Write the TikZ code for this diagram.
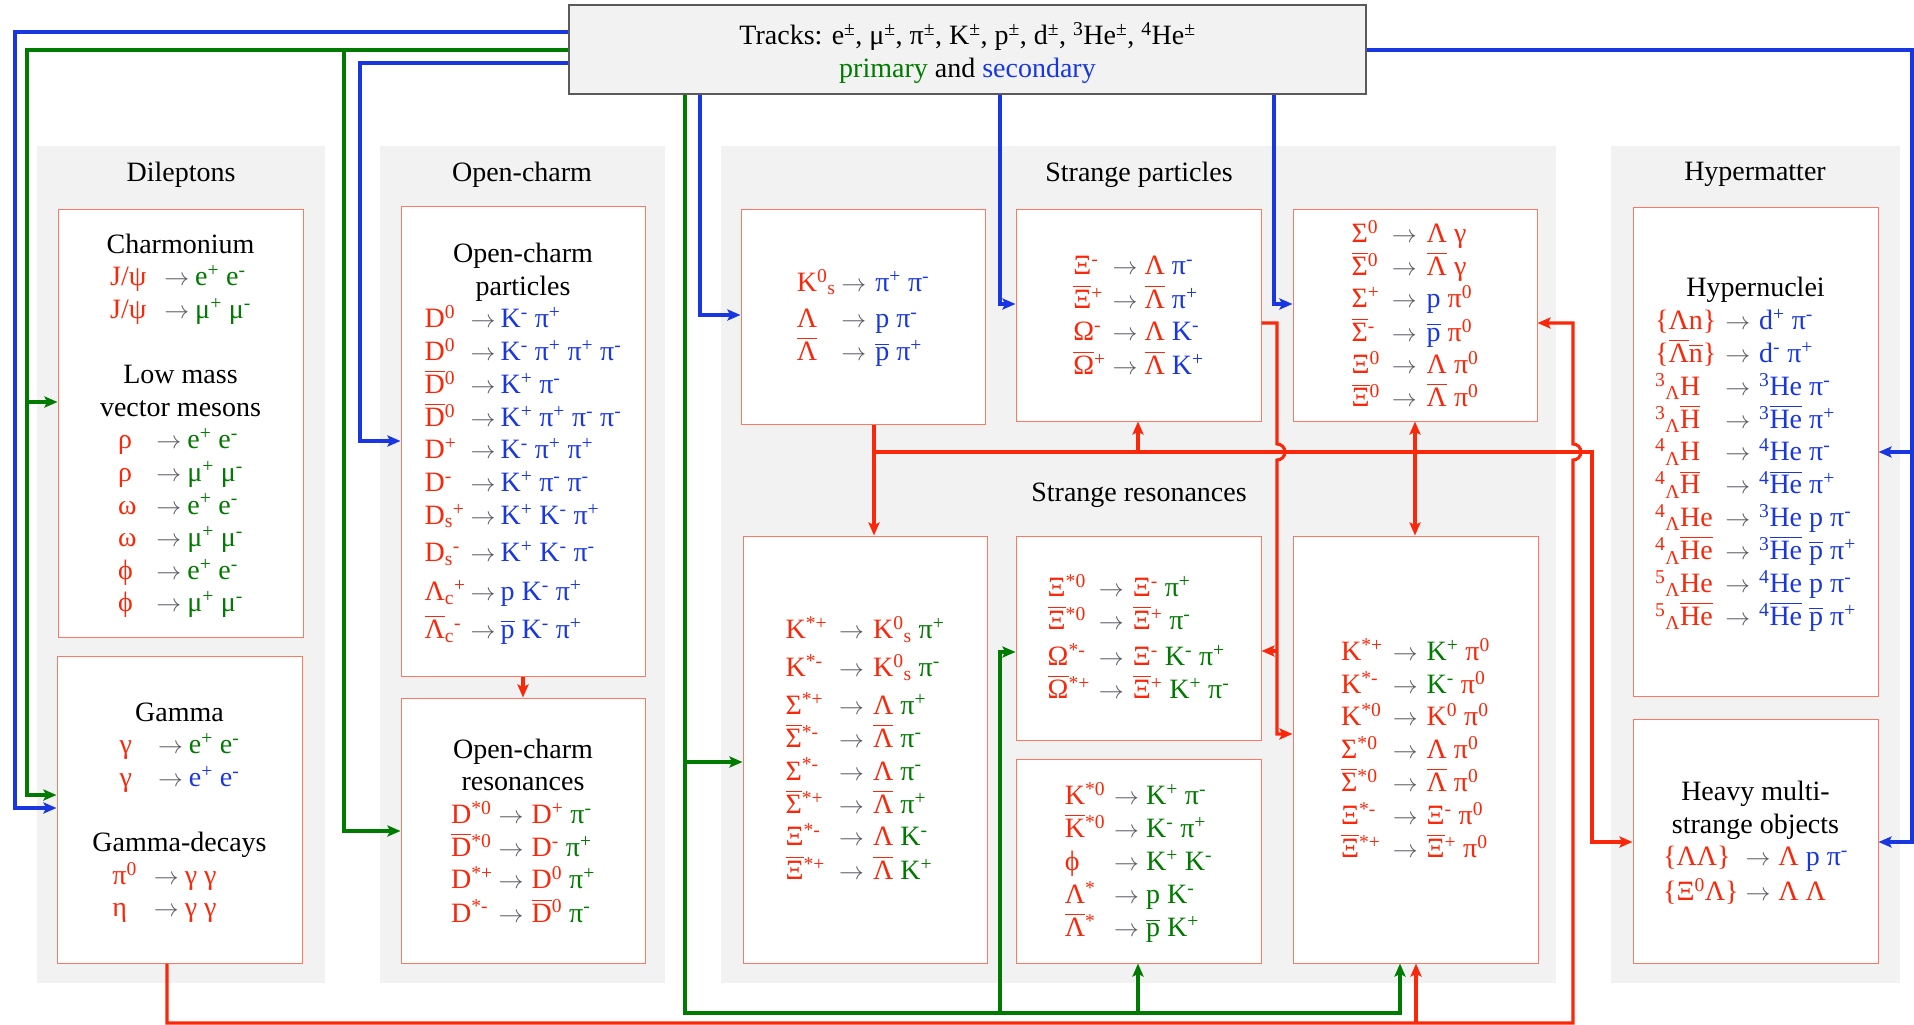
\documentclass[tikz,border=0pt]{standalone}
\usepackage{amsmath}
\usepackage{fontspec}
\setmainfont{Liberation Serif}
\usetikzlibrary{arrows.meta}
\definecolor{cr}{RGB}{250,40,10}
\definecolor{cg}{RGB}{0,122,0}
\definecolor{cb}{RGB}{25,55,225}
\definecolor{cgr}{RGB}{90,90,100}
\definecolor{bgc}{RGB}{242,242,242}
\definecolor{bordc}{RGB}{255,120,100}
\definecolor{trkb}{RGB}{90,90,90}
\newcommand\xup[1]{\textsuperscript{#1}}
\newcommand\xss[2]{\textsuperscript{#1}\textsubscript{#2}}
\newcommand\xsb[2]{\textsubscript{#1}\textsuperscript{#2}}
\newcommand\ob[1]{\ensuremath{\overline{\mbox{#1}}}}
\newcommand\dto{\textcolor{cgr}{$\rightarrow$}}
\newcommand\cR[1]{\textcolor{cr}{#1}}
\newcommand\cG[1]{\textcolor{cg}{#1}}
\newcommand\cB[1]{\textcolor{cb}{#1}}
\newcommand\fs{\fontsize{28}{32.6}\selectfont}
\newcommand\dn[1]{\raisebox{0pt}[\dimexpr\height+6pt\relax][\depth]{#1}}
\newenvironment{dt}[2]{\begin{tabular}[t]{@{}l@{\hspace{#1}}c@{\hspace{#2}}l@{}}}{\end{tabular}}
\newenvironment{bx}{\begin{tabular}{@{}c@{}}}{\end{tabular}}
\begin{document}
\begin{tikzpicture}[x=1pt,y=-1pt,>={Stealth[length=13pt,width=11pt,inset=2.5pt]},
  grp/.style={fill=bgc,draw=none},
  dbox/.style={draw=bordc,line width=1pt,fill=white,inner sep=0pt,font=\fs},
  ttl/.style={font=\fs,inner sep=0pt},
  blueln/.style={draw=cb,line width=3.1pt},
  greenln/.style={draw=cg,line width=3.1pt},
  redln/.style={draw=cr,line width=3.1pt}]
\useasboundingbox (0,0) rectangle (1914,1025);
\fill[white] (0,0) rectangle (1914,1025);
% group backgrounds
\fill[grp] (37,146) rectangle (325,983);
\fill[grp] (380,146) rectangle (665,983);
\fill[grp] (721,146) rectangle (1556,983);
\fill[grp] (1611,146) rectangle (1900,983);
\node[ttl] (tdil) at (181,174.5) {Dileptons};
\node[ttl] (toc) at (522,174.5) {Open-charm};
\node[ttl] (tsp) at (1139,174.5) {Strange particles};
\node[ttl] (tsr) at (1139,495) {Strange resonances};
\node[ttl] (thy) at (1755,174.5) {Hypermatter};
% tracks
\node[draw=trkb,line width=1.2pt,fill=bgc,minimum width=797pt,minimum height=89pt,inner sep=0pt] (tr) at (967.5,49.5) {};
\node[align=center,font=\fs,inner sep=0pt] (trt) at (967.5,53) {Tracks: e\xup{±}, μ\xup{±}, π\xup{±}, K\xup{±}, p\xup{±}, d\xup{±}, \xup{3}He\xup{±}, \xup{4}He\xup{±}\\ \cG{primary} and \cB{secondary}};
% Dileptons
\node[dbox,minimum width=245pt,minimum height=428pt] (ch) at (180.5,423) {\dn{\begin{bx}
Charmonium\\
\begin{dt}{18pt}{6pt}
\cR{J/ψ} & \dto & \cG{e\xup{+} e\xup{-}}\\
\cR{J/ψ} & \dto & \cG{μ\xup{+} μ\xup{-}}
\end{dt}\\
\\
Low mass\\
vector mesons\\
\begin{dt}{20pt}{6pt}
\cR{ρ} & \dto & \cG{e\xup{+} e\xup{-}}\\
\cR{ρ} & \dto & \cG{μ\xup{+} μ\xup{-}}\\
\cR{ω} & \dto & \cG{e\xup{+} e\xup{-}}\\
\cR{ω} & \dto & \cG{μ\xup{+} μ\xup{-}}\\
\cR{ϕ} & \dto & \cG{e\xup{+} e\xup{-}}\\
\cR{ϕ} & \dto & \cG{μ\xup{+} μ\xup{-}}
\end{dt}
\end{bx}}};
\node[dbox,minimum width=245pt,minimum height=307pt] (ga) at (179.5,809.5) {\dn{\begin{bx}
Gamma\\
\begin{dt}{26pt}{6pt}
\cR{γ} & \dto & \cG{e\xup{+} e\xup{-}}\\
\cR{γ} & \dto & \cB{e\xup{+} e\xup{-}}
\end{dt}\\
\\
Gamma-decays\\
\hspace*{-30pt}\begin{dt}{17pt}{6pt}
\cR{π\xup{0}} & \dto & \cR{γ γ}\\
\cR{η} & \dto & \cR{γ γ}
\end{dt}
\end{bx}}};
% Open charm
\node[dbox,minimum width=244pt,minimum height=470pt] (ocp) at (523,441) {\dn{\begin{bx}
Open-charm\\
particles\\
\begin{dt}{5pt}{5pt}
\cR{D\xup{0}} & \dto & \cB{K\xup{-} π\xup{+}}\\
\cR{D\xup{0}} & \dto & \cB{K\xup{-} π\xup{+} π\xup{+} π\xup{-}}\\
\cR{\ob{D}\xup{0}} & \dto & \cB{K\xup{+} π\xup{-}}\\
\cR{\ob{D}\xup{0}} & \dto & \cB{K\xup{+} π\xup{+} π\xup{-} π\xup{-}}\\
\cR{D\xup{+}} & \dto & \cB{K\xup{-} π\xup{+} π\xup{+}}\\
\cR{D\xup{-}} & \dto & \cB{K\xup{+} π\xup{-} π\xup{-}}\\
\cR{D\xsb{s}{+}} & \dto & \cB{K\xup{+} K\xup{-} π\xup{+}}\\[5pt]
\cR{D\xsb{s}{-}} & \dto & \cB{K\xup{+} K\xup{-} π\xup{-}}\\[6pt]
\cR{Λ\xsb{c}{+}} & \dto & \cB{p K\xup{-} π\xup{+}}\\[5pt]
\cR{\ob{Λ}\xsb{c}{-}} & \dto & \cB{\ob{p} K\xup{-} π\xup{+}}
\end{dt}
\end{bx}}};
\node[dbox,minimum width=244pt,minimum height=265pt] (ocr) at (523,830.5) {\dn{\begin{bx}
Open-charm\\
resonances\\
\begin{dt}{6pt}{8pt}
\cR{D\xup{*0}} & \dto & \cR{D\xup{+}} \cG{π\xup{-}}\\
\cR{\ob{D}\xup{*0}} & \dto & \cR{D\xup{-}} \cG{π\xup{+}}\\
\cR{D\xup{*+}} & \dto & \cR{D\xup{0}} \cG{π\xup{+}}\\
\cR{D\xup{*-}} & \dto & \cR{\ob{D}\xup{0}} \cG{π\xup{-}}
\end{dt}
\end{bx}}};
% Strange particles
\node[dbox,minimum width=244pt,minimum height=215pt] (ks) at (863,316.5) {\dn{\begin{dt}{6pt}{9pt}
\cR{K\xss{0}{s}} & \dto & \cB{π\xup{+} π\xup{-}}\\[4pt]
\cR{Λ} & \dto & \cB{p π\xup{-}}\\
\cR{\ob{Λ}} & \dto & \cB{\ob{p} π\xup{+}}
\end{dt}}};
\node[dbox,minimum width=245pt,minimum height=212pt] (xi) at (1138.5,315) {\dn{\begin{dt}{7pt}{7pt}
\cR{Ξ\xup{-}} & \dto & \cR{Λ} \cB{π\xup{-}}\\
\cR{\ob{Ξ}\xup{+}} & \dto & \cR{\ob{Λ}} \cB{π\xup{+}}\\
\cR{Ω\xup{-}} & \dto & \cR{Λ} \cB{K\xup{-}}\\
\cR{\ob{Ω}\xup{+}} & \dto & \cR{\ob{Λ}} \cB{K\xup{+}}
\end{dt}}};
\node[dbox,minimum width=244pt,minimum height=212pt] (sg) at (1415,315) {\dn{\begin{dt}{12pt}{10pt}
\cR{Σ\xup{0}} & \dto & \cR{Λ γ}\\
\cR{\ob{Σ}\xup{0}} & \dto & \cR{\ob{Λ} γ}\\
\cR{Σ\xup{+}} & \dto & \cB{p} \cR{π\xup{0}}\\
\cR{\ob{Σ}\xup{-}} & \dto & \cB{\ob{p}} \cR{π\xup{0}}\\
\cR{Ξ\xup{0}} & \dto & \cR{Λ π\xup{0}}\\
\cR{\ob{Ξ}\xup{0}} & \dto & \cR{\ob{Λ} π\xup{0}}
\end{dt}}};
% Strange resonances
\node[dbox,minimum width=244pt,minimum height=427pt] (kst) at (865,749.5) {\dn{\begin{dt}{12pt}{9pt}
\cR{K\xup{*+}} & \dto & \cR{K\xss{0}{s}} \cG{π\xup{+}}\\[5pt]
\cR{K\xup{*-}} & \dto & \cR{K\xss{0}{s}} \cG{π\xup{-}}\\[5pt]
\cR{Σ\xup{*+}} & \dto & \cR{Λ} \cG{π\xup{+}}\\
\cR{\ob{Σ}\xup{*-}} & \dto & \cR{\ob{Λ}} \cG{π\xup{-}}\\
\cR{Σ\xup{*-}} & \dto & \cR{Λ} \cG{π\xup{-}}\\
\cR{\ob{Σ}\xup{*+}} & \dto & \cR{\ob{Λ}} \cG{π\xup{+}}\\
\cR{Ξ\xup{*-}} & \dto & \cR{Λ} \cG{K\xup{-}}\\
\cR{\ob{Ξ}\xup{*+}} & \dto & \cR{\ob{Λ}} \cG{K\xup{+}}
\end{dt}}};
\node[dbox,minimum width=245pt,minimum height=204pt] (xis) at (1138.5,638) {\dn{\begin{dt}{9pt}{9pt}
\cR{Ξ\xup{*0}} & \dto & \cR{Ξ\xup{-}} \cG{π\xup{+}}\\
\cR{\ob{Ξ}\xup{*0}} & \dto & \cR{\ob{Ξ}\xup{+}} \cG{π\xup{-}}\\[3pt]
\cR{Ω\xup{*-}} & \dto & \cR{Ξ\xup{-}} \cG{K\xup{-} π\xup{+}}\\
\cR{\ob{Ω}\xup{*+}} & \dto & \cR{\ob{Ξ}\xup{+}} \cG{K\xup{+} π\xup{-}}
\end{dt}}};
\node[dbox,minimum width=245pt,minimum height=204pt] (kz) at (1138.5,861) {\dn{\begin{dt}{9pt}{7pt}
\cR{K\xup{*0}} & \dto & \cG{K\xup{+} π\xup{-}}\\
\cR{\ob{K}\xup{*0}} & \dto & \cG{K\xup{-} π\xup{+}}\\[1pt]
\cR{ϕ} & \dto & \cG{K\xup{+} K\xup{-}}\\
\cR{Λ\xup{*}} & \dto & \cG{p K\xup{-}}\\
\cR{\ob{Λ}\xup{*}} & \dto & \cG{\ob{p} K\xup{+}}
\end{dt}}};
\node[dbox,minimum width=245pt,minimum height=427pt] (kpz) at (1415.5,749.5) {\dn{\begin{dt}{10pt}{9pt}
\cR{K\xup{*+}} & \dto & \cG{K\xup{+}} \cR{π\xup{0}}\\
\cR{K\xup{*-}} & \dto & \cG{K\xup{-}} \cR{π\xup{0}}\\
\cR{K\xup{*0}} & \dto & \cR{K\xup{0} π\xup{0}}\\
\cR{Σ\xup{*0}} & \dto & \cR{Λ π\xup{0}}\\
\cR{\ob{Σ}\xup{*0}} & \dto & \cR{\ob{Λ} π\xup{0}}\\
\cR{Ξ\xup{*-}} & \dto & \cR{Ξ\xup{-} π\xup{0}}\\
\cR{\ob{Ξ}\xup{*+}} & \dto & \cR{\ob{Ξ}\xup{+} π\xup{0}}
\end{dt}}};
% Hypermatter
\node[dbox,minimum width=245pt,minimum height=489pt] (hyp) at (1755.5,451.5) {\dn{\begin{bx}
Hypernuclei\\
\begin{dt}{9pt}{9pt}
\cR{\{Λn\}} & \dto & \cB{d\xup{+} π\xup{-}}\\
\cR{\{\ob{Λ}\ob{n}\}} & \dto & \cB{d\xup{-} π\xup{+}}\\
\cR{\xss{3}{Λ}H} & \dto & \cB{\xup{3}He π\xup{-}}\\
\cR{\xss{3}{Λ}\ob{H}} & \dto & \cB{\xup{3}\ob{He} π\xup{+}}\\
\cR{\xss{4}{Λ}H} & \dto & \cB{\xup{4}He π\xup{-}}\\
\cR{\xss{4}{Λ}\ob{H}} & \dto & \cB{\xup{4}\ob{He} π\xup{+}}\\
\cR{\xss{4}{Λ}He} & \dto & \cB{\xup{3}He p π\xup{-}}\\
\cR{\xss{4}{Λ}\ob{He}} & \dto & \cB{\xup{3}\ob{He} \ob{p} π\xup{+}}\\
\cR{\xss{5}{Λ}He} & \dto & \cB{\xup{4}He p π\xup{-}}\\
\cR{\xss{5}{Λ}\ob{He}} & \dto & \cB{\xup{4}\ob{He} \ob{p} π\xup{+}}
\end{dt}
\end{bx}}};
\node[dbox,minimum width=245pt,minimum height=244pt] (hv) at (1755.5,841) {\dn{\begin{bx}
Heavy multi-\\
strange objects\\
\begin{dt}{7pt}{8pt}
\cR{\{ΛΛ\}} & \dto & \cR{Λ} \cB{p π\xup{-}}\\[2pt]
\cR{\{Ξ\xup{0}Λ\}} & \dto & \cR{Λ Λ}
\end{dt}
\end{bx}}};
% coordinates
\coordinate (b1a) at (15,32); \coordinate (b1b) at (15,808);
\coordinate (g1a) at (27,50); \coordinate (g1b) at (27,795); \coordinate (g1c) at (27,402);
\coordinate (g1d) at (344,50); \coordinate (g1e) at (344,831);
\coordinate (b2a) at (360,63); \coordinate (b2b) at (360,441);
\coordinate (b3a) at (700,315); \coordinate (b4a) at (1000,304); \coordinate (b5a) at (1274,304);
\coordinate (br1) at (1912,50); \coordinate (br2) at (1912,842); \coordinate (br3) at (1912,452);
\coordinate (gm1) at (685,1013); \coordinate (gm2) at (1400,1013); \coordinate (gm3) at (685,762);
\coordinate (gm4) at (1000,1013); \coordinate (gm5) at (1000,652); \coordinate (gm6) at (1138,1013);
\coordinate (rg1) at (167,1023); \coordinate (rg2) at (1573,1023); \coordinate (rgb) at (1573,460);
\coordinate (rg3) at (1573,323); \coordinate (rg4) at (1416,1023);
\coordinate (rk1) at (874,452); \coordinate (rk2) at (1592,452); \coordinate (rk3) at (1592,842);
\coordinate (rk4) at (1138,452); \coordinate (rk5) at (1415,452);
\coordinate (rx1) at (1277,323); \coordinate (rxb) at (1277,444); \coordinate (rx2) at (1277,734); \coordinate (rx3) at (1277,651);
% blue
\draw[blueln,->] (tr.west |- b1a) -- (b1a) -- (b1b) -- (b1b -| ga.west);
\draw[blueln,->] (tr.west |- b2a) -- (b2a) -- (b2b) -- (b2b -| ocp.west);
\draw[blueln,->] (tr.south -| b3a) -- (b3a) -- (b3a -| ks.west);
\draw[blueln,->] (tr.south -| b4a) -- (b4a) -- (b4a -| xi.west);
\draw[blueln,->] (tr.south -| b5a) -- (b5a) -- (b5a -| sg.west);
\draw[blueln,->] (tr.east |- br1) -- (br1) -- (br2) -- (br2 -| hv.east);
\draw[blueln,->] (br3) -- (br3 -| hyp.east);
% green
\draw[greenln,->] (tr.west |- g1a) -- (g1a) -- (g1b) -- (g1b -| ga.west);
\draw[greenln,->] (g1c) -- (g1c -| ch.west);
\draw[greenln,->] (g1d) -- (g1e) -- (g1e -| ocr.west);
\draw[greenln,->] (tr.south -| gm1) -- (gm1) -- (gm2) -- (gm2 |- kpz.south);
\draw[greenln,->] (gm3) -- (gm3 -| kst.west);
\draw[greenln,->] (gm4) -- (gm5) -- (gm5 -| xis.west);
\draw[greenln,->] (gm6) -- (gm6 |- kz.south);
% red
\draw[redln,->] (ocp.south) -- (ocr.north);
\draw[redln,->] (ga.south -| rg1) -- (rg1) -- (rg2) -- (rgb) arc[start angle=-90,end angle=90,radius=8pt] -- (rg3) -- (rg3 -| sg.east);
\draw[redln,->] (rg4) -- (rg4 |- kpz.south);
\draw[redln,->] (ks.south -| rk1) -- (rk1) -- (rk2) -- (rk3) -- (rk3 -| hv.west);
\draw[redln,->] (rk1) -- (rk1 |- kst.north);
\draw[redln,->] (rk4) -- (rk4 |- xi.south);
\draw[redln,<->] (rk5 |- sg.south) -- (rk5 |- kpz.north);
\draw[redln,->] (xi.east |- rx1) -- (rx1) -- (rxb) arc[start angle=90,end angle=-90,radius=8pt] -- (rx2) -- (rx2 -| kpz.west);
\draw[redln,->] (rx3) -- (rx3 -| xis.east);
\end{tikzpicture}
\end{document}
